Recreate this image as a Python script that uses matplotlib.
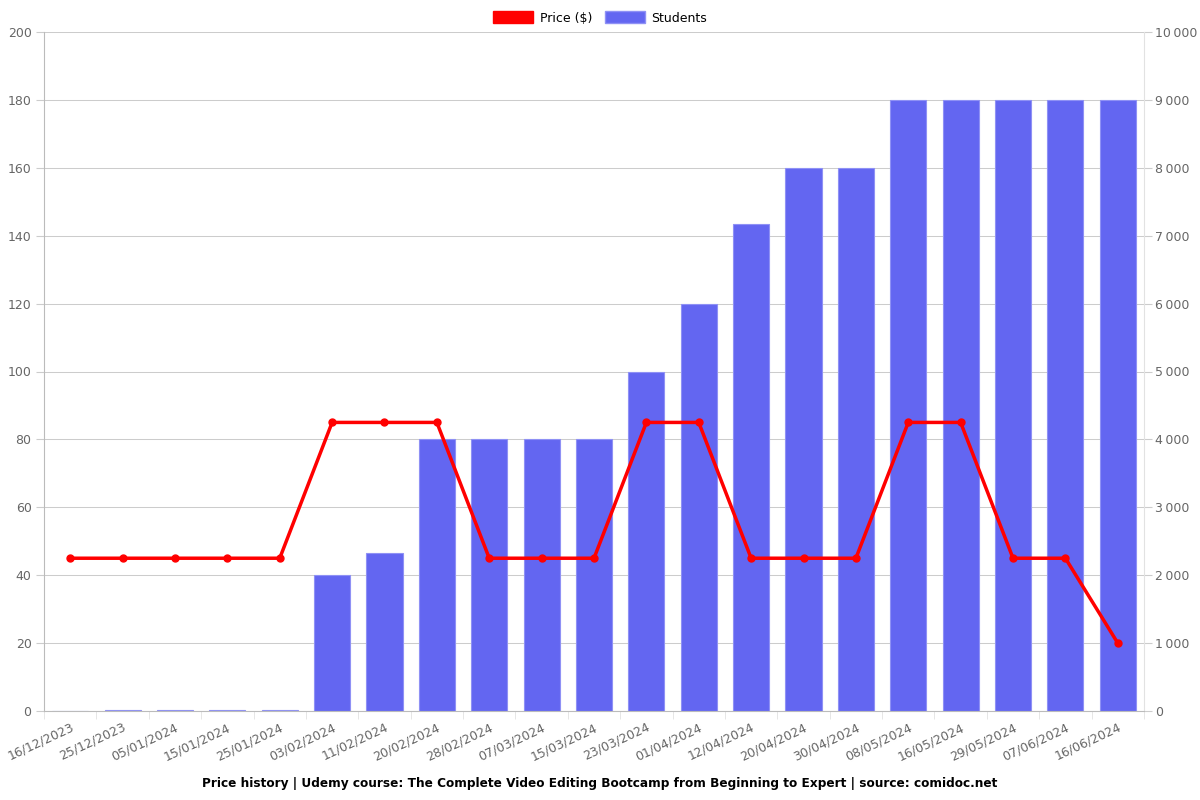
import numpy as np
import matplotlib
matplotlib.use('Agg')
import matplotlib.pyplot as plt
from matplotlib.patches import Patch
from matplotlib.ticker import FuncFormatter, MultipleLocator

dates = ['16/12/2023', '25/12/2023', '05/01/2024', '15/01/2024', '25/01/2024',
         '03/02/2024', '11/02/2024', '20/02/2024', '28/02/2024', '07/03/2024',
         '15/03/2024', '23/03/2024', '01/04/2024', '12/04/2024', '20/04/2024',
         '30/04/2024', '08/05/2024', '16/05/2024', '29/05/2024', '07/06/2024',
         '16/06/2024']
price = [45, 45, 45, 45, 45, 85, 85, 85, 45, 45, 45, 85, 85, 45, 45, 45,
         85, 85, 45, 45, 20]
students = [0, 8, 8, 8, 20, 2000, 2330, 4000, 4000, 4000, 4000, 5000, 6000,
            7170, 8000, 8000, 9000, 9000, 9000, 9000, 9000]

title = ('Price history | Udemy course: The Complete Video Editing Bootcamp '
         'from Beginning to Expert | source: comidoc.net')

bar_color = '#6366f1'
line_color = '#ff0000'
hgrid_color = '#cccccc'
vgrid_color = '#e2e2e2'
text_color = '#666666'

fig = plt.figure(figsize=(12, 8), dpi=100)
ax = fig.add_axes([0.0367, 0.11125, 0.9166, 0.84875])
ax2 = ax.twinx()

x = np.arange(len(dates))

# bars on the right axis, drawn behind the price line
ax2.bar(x, students, width=0.69, color=bar_color, edgecolor='#8f91f5',
        linewidth=0.8, zorder=2)
ax2.set_ylim(0, 10000)
ax2.yaxis.set_major_locator(MultipleLocator(1000))
ax2.yaxis.set_major_formatter(
    FuncFormatter(lambda v, p: f'{int(v):,}'.replace(',', '\u202f')))
ax2.grid(axis='y', color=hgrid_color, linewidth=0.75, zorder=0)
ax2.set_axisbelow(True)

ax.plot(x, price, color=line_color, linewidth=2.5, marker='o',
        markersize=5, zorder=5)
ax.set_ylim(0, 200)
ax.yaxis.set_major_locator(MultipleLocator(20))
ax.set_xlim(-0.5, len(dates) - 0.5)
ax.set_zorder(ax2.get_zorder() + 1)
ax.patch.set_visible(False)

ax.set_xticks(x)
ax.set_xticklabels(dates, rotation=25, ha='right', rotation_mode='anchor')
ax.set_xticks(np.arange(-0.5, len(dates), 1), minor=True)
ax.tick_params(axis='x', which='major', length=0, pad=7,
               labelsize=9, labelcolor=text_color)
ax.tick_params(axis='x', which='minor', length=6, color=vgrid_color)
ax2.set_xticks(np.arange(-0.5, len(dates), 1), minor=True)
ax2.grid(axis='x', which='minor', color=vgrid_color, linewidth=0.75)

ax.tick_params(axis='y', length=6, pad=3, color=hgrid_color, labelsize=9,
               labelcolor=text_color)
ax2.tick_params(axis='y', length=6, pad=2, color=hgrid_color, labelsize=9,
                labelcolor=text_color)

for a in (ax, ax2):
    for s in a.spines.values():
        s.set_visible(False)
ax.spines['left'].set_visible(True)
ax.spines['left'].set_color('#bbbbbb')
ax.spines['bottom'].set_visible(True)
ax.spines['bottom'].set_color('#bbbbbb')
ax2.spines['right'].set_visible(True)
ax2.spines['right'].set_color(vgrid_color)

handles = [Patch(facecolor=line_color, edgecolor=line_color),
           Patch(facecolor=bar_color, edgecolor='#8f91f5')]
fig.legend(handles, ['Price ($)', 'Students'], loc='upper center',
           bbox_to_anchor=(0.5, 1.0), ncol=2, frameon=False, fontsize=9,
           handlelength=3.2, handleheight=1.1, columnspacing=1.0,
           handletextpad=0.5)

fig.text(0.5, 0.021, title, ha='center', va='center', fontsize=8.7,
         fontweight='bold')

plt.savefig('out.png', dpi=100)
